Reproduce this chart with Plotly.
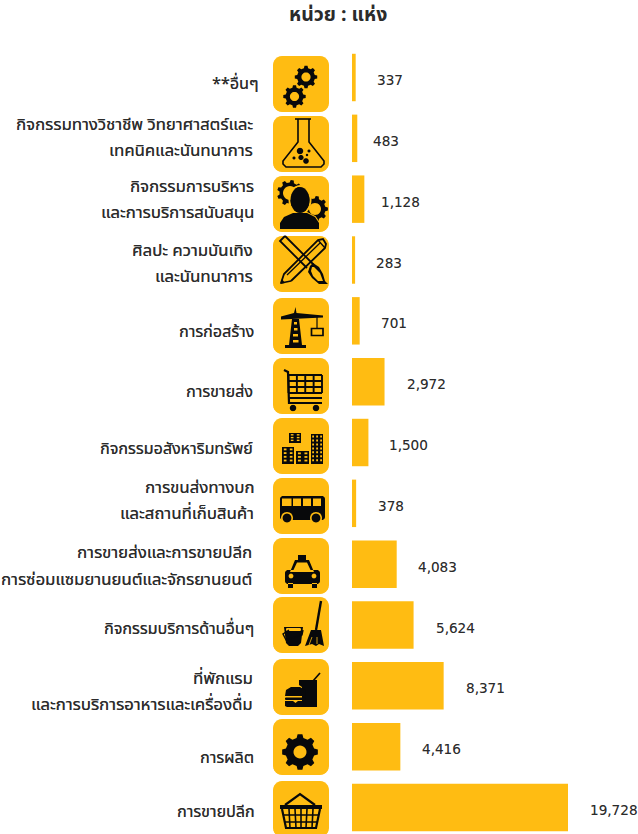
import math
import plotly.graph_objects as go

W, H = 638, 834
categories = ["**อื่นๆ", "กิจกรรมทางวิชาชีพ วิทยาศาสตร์และ\nเทคนิคและนันทนาการ", "กิจกรรมการบริหาร\nและการบริการสนับสนุน",
              "ศิลปะ ความบันเทิง\nและนันทนาการ", "การก่อสร้าง", "การขายส่ง", "กิจกรรมอสังหาริมทรัพย์",
              "การขนส่งทางบก\nและสถานที่เก็บสินค้า", "การขายส่งและการขายปลีก\nการซ่อมแซมยานยนต์และจักรยานยนต์",
              "กิจกรรมบริการด้านอื่นๆ", "ที่พักแรม\nและการบริการอาหารและเครื่องดื่ม", "การผลิต", "การขายปลีก"]
values = [337, 483, 1128, 283, 701, 2972, 1500, 378, 4083, 5624, 8371, 4416, 19728]
title_text = "หน่วย : แห่ง"

YEL = "#FFBC12"
K = "#08090B"
TXT = "#2B2B2B"
FONT = "Tahoma, 'Noto Sans Thai', 'Noto Sans', 'DejaVu Sans', sans-serif"
NUM = "'DejaVu Sans', Verdana, sans-serif"
SOFT = "0.3px 0 0.5px rgba(40,40,40,0.75)"
SOFT_NUM = "0 0 0.6px rgba(40,40,40,0.35)"

# layout geometry (pixels)
X0, PXU = 352, 216 / 19728
Y0, PITCH = 77.5, 730 / 12
BOX_X, BOX_S = 273, 56
box_tops = [56, 116, 176, 236, 298, 358, 418, 478, 538, 597, 659, 719, 781]
value_dx = [19, 14, 15, 19, 19, 20, 19, 20, 19, 20, 20, 20, 19.5]
label_dy = [6, -0.5, 1, 4, 11, 10, 6, -2.5, 2.5, 4, 6, 11, 4.5]
label_dx = [5, 0, 1, 0, 1, 0, 0, 1, -1, 1, 0, 1, 2]

shapes = []


def pt(o, x, y):
    return f"{(BOX_X + x) / W:.5f},{1 - (o + y) / H:.5f}"


def path(o, polys, closed=True):
    s = ""
    for poly in polys:
        s += "M" + "L".join(pt(o, x, y) for x, y in poly) + ("Z" if closed else "")
    return s


def fill(o, polys, c=K):
    shapes.append(dict(type="path", xref="paper", yref="paper", path=path(o, polys), fillcolor=c,
                       line=dict(width=0), layer="above"))


def stroke(o, polys, w=2, c=K, closed=False):
    shapes.append(dict(type="path", xref="paper", yref="paper", path=path(o, polys, closed),
                       line=dict(color=c, width=w), layer="above"))


def circ(cx, cy, r, ry=None, n=28):
    ry = ry or r
    return [(cx + r * math.cos(2 * math.pi * i / n), cy + ry * math.sin(2 * math.pi * i / n)) for i in range(n)]


def rect(x0, y0, x1, y1):
    return [(x0, y0), (x1, y0), (x1, y1), (x0, y1)]


def rrect(x0, y0, x1, y1, r):
    p = []
    for cx, cy, a in [(x1 - r, y0 + r, -90), (x1 - r, y1 - r, 0), (x0 + r, y1 - r, 90), (x0 + r, y0 + r, 180)]:
        for k in range(7):
            t = math.radians(a + 15 * k)
            p.append((cx + r * math.cos(t), cy + r * math.sin(t)))
    return p


def gear(cx, cy, ro, ri, teeth=8):
    p = []
    for i in range(teeth):
        a = 2 * math.pi * i / teeth
        s = 2 * math.pi / teeth
        for f, r in [(-.30, ri), (-.17, ro), (.17, ro), (.30, ri)]:
            p.append((cx + r * math.cos(a + f * s), cy + r * math.sin(a + f * s)))
    return p


def grid(o, x0, y0, x1, y1, nx, ny, w=1.3):
    for i in range(nx + 1):
        x = x0 + (x1 - x0) * i / nx
        stroke(o, [[(x, y0), (x, y1)]], w)
    for j in range(ny + 1):
        y = y0 + (y1 - y0) * j / ny
        stroke(o, [[(x0, y), (x1, y)]], w)


def i_gears(o):
    fill(o, [gear(33, 21, 11.3, 9, 8), circ(33, 21, 4.6)])
    fill(o, [gear(21.5, 40.5, 11.3, 9, 8), circ(21.5, 40.5, 4.6)])


def i_flask(o):
    stroke(o, [[(22, 3), (38, 3)]], 1.6)
    stroke(o, [[(25, 3), (25, 26), (10, 45), (10, 48), (13, 51), (48, 51), (51, 48), (51, 45), (36, 26), (36, 3)]], 1.6)
    for c in [(27, 35, 3.2), (28, 41.5, 2.6), (33, 45, 2.8), (36, 35, 1.5), (21, 42, 1.5), (34, 39, 1.2)]:
        fill(o, [circ(*c)])


def i_person(o):
    fill(o, [gear(17, 17, 13, 10.5, 9), circ(17, 17, 7)])
    fill(o, [gear(42, 33, 13, 10.5, 9), circ(42, 33, 6)])
    body = [(7, 53), (7, 47), (11, 41), (20, 37), (34, 37), (42, 41), (46, 47), (46, 53)]
    stroke(o, [circ(27, 24, 10.5, 14)], 2, YEL, True)
    stroke(o, [body], 2, YEL, True)
    fill(o, [circ(27, 24, 9.5, 13)])
    fill(o, [body])


def i_art(o):
    stroke(o, [[(8, 47), (11, 38), (45, 4), (50, 3), (53, 8), (52, 12), (18, 45)]], 1.8)
    stroke(o, [[(8, 47), (18, 45)], [(14, 39), (47, 7)], [(45, 4), (52, 12)]], 1.3)
    fill(o, [[(7, 48), (9, 43), (12, 47)]])
    stroke(o, [[(12, 0), (7, 5), (34, 32)], [(12, 0), (41, 29)]], 1.8)
    fill(o, [[(37, 30), (40, 27), (46, 31), (50, 38), (52, 45), (55, 48), (46, 48), (39, 42), (35, 36)]])
    fill(o, [[(39, 31), (41, 31), (47, 37), (50, 45), (45, 45), (40, 40), (38, 35)]], YEL)


def i_crane(o):
    fill(o, [[(8, 18.5), (8, 21.5), (50, 19.5), (50, 17.5), (23.5, 15), (22.5, 9), (21, 15)]])
    fill(o, [[(19, 21), (26, 21), (29, 47), (16, 47)], rect(21, 24, 24, 26.5), rect(21, 30, 24.5, 32.5), rect(20, 36, 25, 38.5), rect(20, 42, 25.5, 44.5)])
    fill(o, [rect(12, 47, 33, 50)])
    stroke(o, [[(44, 19), (44, 30)]], 1.2)
    stroke(o, [rect(38.5, 30.5, 50, 37.5)], 1.7, K, True)


def i_cart(o):
    stroke(o, [[(11, 12), (15, 14), (16, 45), (49, 45)]], 2.2)
    grid(o, 15.5, 17, 49, 35, 4, 3, 1.9)
    stroke(o, [[(16, 40), (49, 40)]], 2.2)
    fill(o, [circ(20, 50, 3.2), circ(43, 50, 3.2)])


def i_city(o):
    pieces = [(9, 29, 21, 46, 2, 4), (16, 15, 28, 25, 2, 3), (23, 33, 36, 46, 2, 3), (38, 16, 50, 46, 3, 7)]
    for x0, y0, x1, y1, nx, ny in pieces:
        fill(o, [rect(x0, y0, x1, y1)])
    fill(o, [rect(21, 27, 23, 33)], YEL)
    for x0, y0, x1, y1, nx, ny in pieces:
        sx, sy = (x1 - x0) / nx, (y1 - y0) / (ny + .6)
        for i in range(nx):
            for j in range(ny):
                fill(o, [rect(x0 + sx * i + sx * .3, y0 + sy * j + sy * .4, x0 + sx * i + sx * .75, y0 + sy * j + sy * .9)], YEL)


def i_bus(o):
    fill(o, [rrect(7, 18, 52, 42, 3)])
    for a, b in [(9, 18.5), (20, 28), (30, 38), (40, 48)]:
        fill(o, [rect(a, 20.5, b, 28)], YEL)
    for x in (14, 43):
        fill(o, [circ(x, 40, 6)], YEL)
        fill(o, [circ(x, 40, 4.4)])


def i_taxi(o):
    fill(o, [rect(25, 17, 33, 22), [(17, 34), (22, 22), (36, 22), (41, 34)], rrect(12, 32, 47, 46, 3),
              rect(15, 45, 20, 50), rect(39, 45, 44, 50)])
    fill(o, [[(20, 33), (24, 24.5), (34, 24.5), (38, 33)], circ(18, 38, 2.4), circ(41, 38, 2.4)], YEL)


def i_clean(o):
    fill(o, [[(11, 30), (30, 30), (28, 46), (25, 49), (16, 49), (13, 46)]])
    fill(o, [rrect(13, 31, 28, 34, 1.2)], YEL)
    stroke(o, [[(16, 33), (10, 37), (13, 43), (29, 38), (30, 33)]], 1.4)
    stroke(o, [[(48, 4), (43, 33)]], 2.4)
    fill(o, [[(38, 33), (48, 33), (51, 49), (46, 47), (43, 49), (39, 47), (32, 49)]])
    stroke(o, [[(39, 40), (36, 48)], [(44, 40), (44, 47)]], .8, YEL)


def i_food(o):
    stroke(o, [[(40, 22), (47, 14)]], 1.6)
    fill(o, [[(26, 21), (44, 21), (44, 48), (29, 48), (29, 28), (26, 26)]])
    fill(o, [[(12, 37), (13, 31), (18, 28), (27, 28), (32, 31), (33, 37)], rrect(12, 38.5, 33, 41, 1),
              [(12, 42), (20, 42), (22.5, 44), (25, 42), (33, 42), (33, 47), (31, 48), (14, 48), (12, 47)]])


def i_gear(o):
    fill(o, [gear(27, 33, 18, 14.5, 8), circ(27, 33, 6.5)])


def i_basket(o):
    stroke(o, [[(12, 24), (27, 13), (42, 24)]], 2.2)
    fill(o, [rect(7, 24, 49, 28)])
    stroke(o, [[(9, 28), (13, 47), (43, 47), (47, 28)]], 2.2)
    for a, b in [(16, 17), (22, 23), (28, 28), (34, 33), (40, 39)]:
        stroke(o, [[(a, 28), (b, 47)]], 1.6)
    for y, dx in [(34, 1.3), (41, 2.7)]:
        stroke(o, [[(9 + dx, y), (47 - dx, y)]], 1.6)


icons = [i_gears, i_flask, i_person, i_art, i_crane, i_cart, i_city, i_bus, i_taxi, i_clean, i_food, i_gear, i_basket]
for top, ic in zip(box_tops, icons):
    fill(top, [rrect(0, 0, BOX_S, BOX_S, 9)], YEL)
    ic(top)

fig = go.Figure(go.Bar(x=values, y=list(range(len(values))), orientation="h", width=0.78,
                       marker=dict(color=YEL, line=dict(width=0)), hoverinfo="skip"))

ann = [dict(text=f"<b>{title_text}</b>", xref="paper", yref="paper", x=338 / W, y=1 - 15 / H, showarrow=False,
            font=dict(family=FONT, size=19.5, color=TXT), xanchor="center", yanchor="middle")]
for i, (c, v) in enumerate(zip(categories, values)):
    ann.append(dict(text=f"{v:,}", x=v, y=i, xref="x", yref="y", showarrow=False, xanchor="left", yanchor="middle",
                    xshift=value_dx[i], yshift=-2.5, font=dict(family=NUM, size=13.6, color=TXT, shadow=SOFT_NUM)))
    lines = c.split("\n")
    size = 16.8 if len(lines) == 2 else 16.1
    for k, ln in enumerate(lines):
        off = (k - (len(lines) - 1) / 2) * 26.5 + label_dy[i]
        ann.append(dict(text=ln, x=255 / W, y=i, xref="paper", yref="y", showarrow=False, xanchor="right",
                        yanchor="middle", yshift=-off, xshift=label_dx[i],
                        font=dict(family=FONT, size=size, color=TXT, shadow=SOFT)))

fig.update_layout(
    width=W, height=H, autosize=False, margin=dict(l=0, r=0, t=0, b=0), paper_bgcolor="white", plot_bgcolor="white",
    showlegend=False, shapes=shapes, annotations=ann,
    xaxis=dict(range=[-X0 / PXU, (W - X0) / PXU], visible=False, fixedrange=True),
    yaxis=dict(range=[(H - Y0) / PITCH, -Y0 / PITCH], visible=False, fixedrange=True),
)
fig.write_html("out.html", config=dict(displayModeBar=False),
               post_script="document.body.style.margin='0';document.documentElement.style.overflow='hidden';")
